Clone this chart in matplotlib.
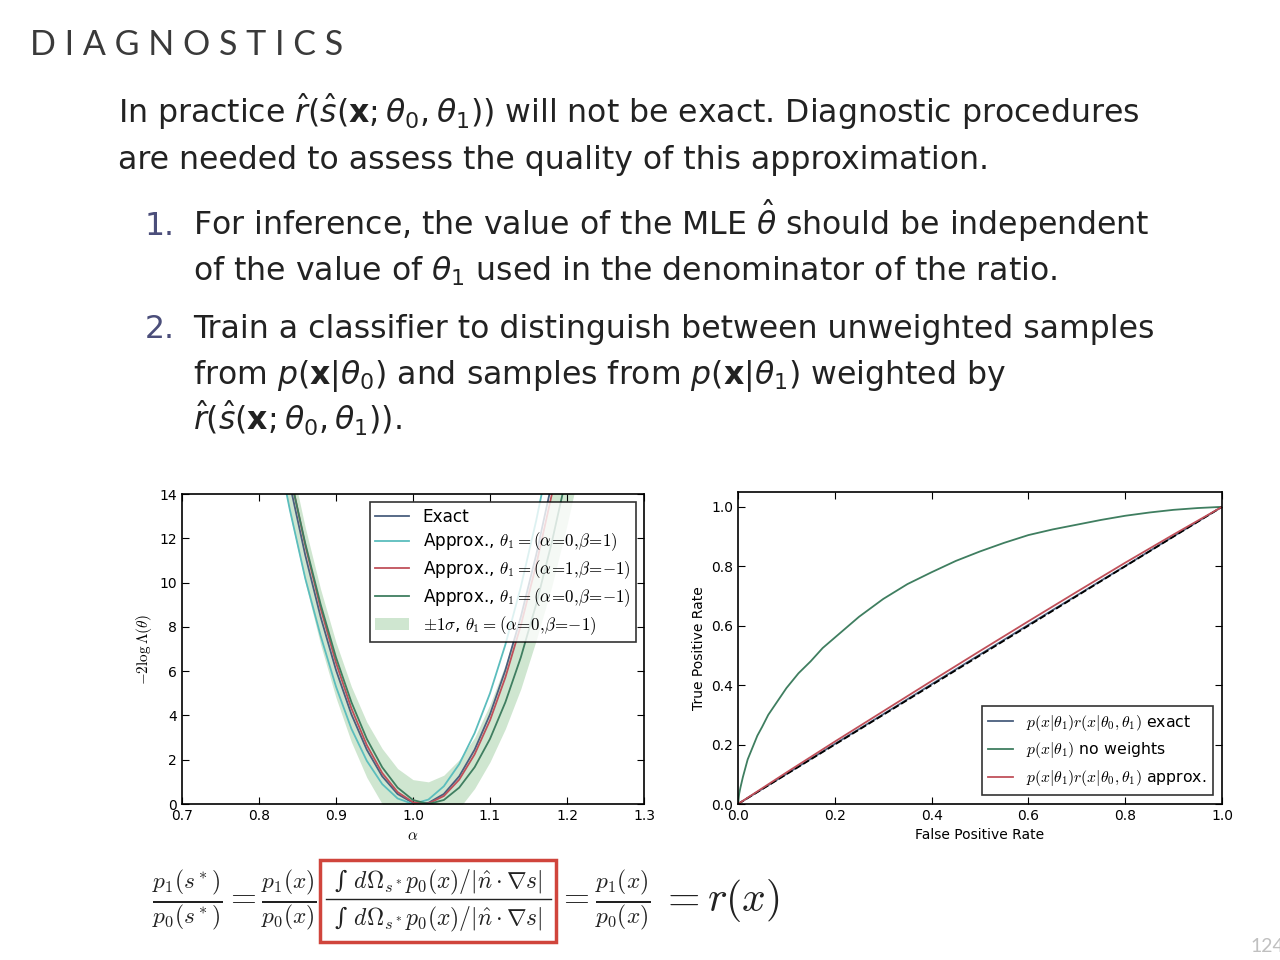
import numpy as np
import matplotlib
matplotlib.use("Agg")
import matplotlib.pyplot as plt
from matplotlib.patches import Rectangle
from matplotlib.lines import Line2D

# --- left panel: -2 log Lambda vs alpha ---
alpha = [0.80, 0.82, 0.84, 0.86, 0.88, 0.90, 0.92, 0.94, 0.96, 0.98, 1.00,
         1.02, 1.04, 1.06, 1.08, 1.10, 1.12, 1.14, 1.16, 1.18, 1.20, 1.22]
nll_exact = [22.05, 18.05, 14.45, 11.25, 8.45, 6.05, 4.05, 2.45, 1.25, 0.45, 0.05,
             0.05, 0.45, 1.25, 2.45, 4.05, 6.05, 8.45, 11.25, 14.45, 18.05, 22.05]
nll_cyan = [20.6, 16.7, 13.3, 10.2, 7.6, 5.3, 3.4, 1.95, 0.9, 0.25, 0.0,
            0.2, 0.8, 1.8, 3.2, 5.0, 7.2, 9.8, 12.8, 16.2, 20.0, 24.2]
nll_red = [22.68, 18.62, 14.96, 11.70, 8.84, 6.38, 4.32, 2.66, 1.40, 0.54, 0.08,
           0.02, 0.36, 1.10, 2.24, 3.78, 5.72, 8.06, 10.80, 13.94, 17.48, 21.42]
nll_green = [22.26, 18.4, 14.9, 11.78, 9.02, 6.62, 4.6, 2.94, 1.66, 0.74, 0.18,
             0.0, 0.18, 0.74, 1.66, 2.94, 4.6, 6.62, 9.02, 11.78, 14.9, 18.4]
band_lo = [20.6, 16.7, 13.1, 10.0, 7.2, 4.8, 2.8, 1.2, 0.0, -0.8, -1.25,
           -1.3, -0.8, -0.2, 0.7, 1.9, 3.4, 5.2, 7.4, 9.8, 12.6, 15.7]
band_hi = [23.2, 19.3, 15.7, 12.5, 9.7, 7.3, 5.3, 3.7, 2.5, 1.6, 1.1,
           1.0, 1.3, 2.0, 3.0, 4.5, 6.3, 8.5, 11.1, 14.1, 17.4, 21.2]

# --- right panel: ROC curves ---
fpr = [0.0, 0.1, 0.2, 0.3, 0.4, 0.5, 0.6, 0.7, 0.8, 0.9, 1.0]
tpr_exact = [0.0, 0.101, 0.202, 0.302, 0.403, 0.503, 0.603, 0.702, 0.801, 0.901, 1.0]
tpr_approx = [0.0, 0.106, 0.21, 0.312, 0.414, 0.515, 0.615, 0.714, 0.812, 0.907, 1.0]
fpr_nw = [0.0, 0.0025, 0.005, 0.01, 0.02, 0.03, 0.04, 0.05, 0.0625, 0.075, 0.0875,
          0.1, 0.125, 0.15, 0.175, 0.2, 0.25, 0.3, 0.35, 0.4, 0.45, 0.5,
          0.55, 0.6, 0.65, 0.7, 0.75, 0.8, 0.85, 0.9, 0.95, 1.0]
tpr_nw = [0.0, 0.035, 0.055, 0.09, 0.15, 0.19, 0.23, 0.26, 0.30, 0.33, 0.36,
          0.39, 0.44, 0.48, 0.525, 0.56, 0.63, 0.69, 0.74, 0.78, 0.818, 0.85,
          0.879, 0.905, 0.924, 0.94, 0.956, 0.97, 0.981, 0.99, 0.996, 1.0]

C_EXACT = "#4a5f7e"
C_CYAN = "#5bbdbd"
C_RED = "#c0505a"
C_GREEN = "#3f7e60"
C_BAND = "#cfe6d0"

plt.rcParams["font.family"] = ["DejaVu Sans"]
plt.rcParams["mathtext.fontset"] = "cm"
for ax_ in ("xtick", "ytick"):
    plt.rcParams[ax_ + ".direction"] = "in"
    plt.rcParams[ax_ + ".major.size"] = 5
    plt.rcParams[ax_ + ".labelsize"] = 10
plt.rcParams["xtick.top"] = True
plt.rcParams["ytick.right"] = True

fig = plt.figure(figsize=(12.8, 9.6), dpi=100)
fig.patch.set_facecolor("white")

H = 960.0
W = 1280.0

# slide text
fig.text(30 / W, 1 - 55 / H, "D I A G N O S T I C S", fontsize=24.5,
         family="Lato", weight="normal", color="#3a3a3a", va="baseline")

body = dict(fontsize=22.7, family="DejaVu Sans", color="#222222", va="baseline",
            math_fontfamily="dejavusans")
fig.text(118 / W, 1 - 123 / H,
         r"In practice $\hat{r}(\hat{s}(\mathbf{x};\theta_0,\theta_1))$ will not be exact. Diagnostic procedures",
         **body)
fig.text(118 / W, 1 - 169 / H,
         "are needed to assess the quality of this approximation.", **body)
num = dict(body, color="#4b4e7a")
fig.text(145 / W, 1 - 235 / H, "1.", **num)
fig.text(145 / W, 1 - 338 / H, "2.", **num)
fig.text(193 / W, 1 - 235 / H,
         r"For inference, the value of the MLE $\hat{\theta}$ should be independent", **body)
fig.text(193 / W, 1 - 281 / H,
         r"of the value of $\theta_1$ used in the denominator of the ratio.", **body)
fig.text(193 / W, 1 - 338 / H,
         "Train a classifier to distinguish between unweighted samples", **body)
fig.text(193 / W, 1 - 384 / H,
         r"from $p(\mathbf{x}|\theta_0)$ and samples from $p(\mathbf{x}|\theta_1)$ weighted by",
         **body)
fig.text(193 / W, 1 - 431 / H,
         r"$\hat{r}(\hat{s}(\mathbf{x};\theta_0,\theta_1))$.", **body)

# left plot
ax1 = fig.add_axes([182 / W, 1 - 804 / H, 462 / W, 310 / H])
ax1.fill_between(alpha, band_lo, band_hi, color=C_BAND, lw=0,
                 label=r"$\pm1\sigma$, $\theta_1=(\alpha\!=\!0,\!\beta\!=\!{-1})$")
ax1.plot(alpha, nll_exact, color=C_EXACT, lw=1.3, label="Exact")
ax1.plot(alpha, nll_cyan, color=C_CYAN, lw=1.3,
         label=r"Approx., $\theta_1=(\alpha\!=\!0,\!\beta\!=\!1)$")
ax1.plot(alpha, nll_red, color=C_RED, lw=1.3,
         label=r"Approx., $\theta_1=(\alpha\!=\!1,\!\beta\!=\!{-1})$")
ax1.plot(alpha, nll_green, color=C_GREEN, lw=1.3,
         label=r"Approx., $\theta_1=(\alpha\!=\!0,\!\beta\!=\!{-1})$")
ax1.set_xlim(0.7, 1.3)
ax1.set_ylim(0, 14)
ax1.set_xticks(np.arange(0.7, 1.31, 0.1))
ax1.set_yticks(range(0, 15, 2))
ax1.set_xlabel(r"$\alpha$", fontsize=11)
ax1.set_ylabel(r"$-2\log\Lambda(\theta)$", fontsize=11)
h, l = ax1.get_legend_handles_labels()
order = [1, 2, 3, 4, 0]
leg1 = ax1.legend([h[i] for i in order], [l[i] for i in order], loc="upper right",
                  fontsize=12.2, fancybox=False, edgecolor="black",
                  borderaxespad=0.5, handlelength=2.0, labelspacing=0.3,
                  borderpad=0.3)
leg1.get_frame().set_linewidth(1.2)

# right plot
ax2 = fig.add_axes([738 / W, 1 - 804 / H, 484 / W, 312 / H])
ax2.plot(fpr, tpr_exact, color=C_EXACT, lw=1.3,
         label=r"$p(x|\theta_1)r(x|\theta_0,\theta_1)$ exact")
ax2.plot(fpr_nw, tpr_nw, color=C_GREEN, lw=1.3,
         label=r"$p(x|\theta_1)$ no weights")
ax2.plot([0, 1], [0, 1], color="black", lw=1.3, ls="--")
ax2.plot(fpr, tpr_approx, color=C_RED, lw=1.3,
         label=r"$p(x|\theta_1)r(x|\theta_0,\theta_1)$ approx.")
ax2.set_xlim(0, 1)
ax2.set_ylim(0, 1.05)
ax2.set_xticks(np.arange(0, 1.01, 0.2))
ax2.set_yticks(np.arange(0, 1.01, 0.2))
ax2.set_xlabel("False Positive Rate", fontsize=10)
ax2.set_ylabel("True Positive Rate", fontsize=10)
leg2 = ax2.legend(loc="lower right", fontsize=11.3, fancybox=False,
                  edgecolor="black", borderaxespad=0.6, handlelength=1.6)
leg2.get_frame().set_linewidth(1.2)

for ax in (ax1, ax2):
    for s in ax.spines.values():
        s.set_linewidth(1.2)

# bottom equation
eq = dict(fontsize=24, va="center", math_fontfamily="cm", color="#222222")
fig.text(152 / W, 1 - 901 / H,
         r"$\frac{p_1(s^*)}{p_0(s^*)}=\frac{p_1(x)}{p_0(x)}$", **eq)
box_part = dict(fontsize=17, ha="center", va="baseline", math_fontfamily="cm",
                color="#222222", family="DejaVu Serif")
frac_txt = "\u222b $d\\Omega_{s^*}p_0(x)/|\\hat{n}\\cdot\\nabla s|$"
fig.text(438 / W, 1 - 888 / H, frac_txt, **box_part)
fig.text(438 / W, 1 - 925 / H, frac_txt, **box_part)
fig.lines.append(Line2D([326 / W, 551 / W], [1 - 899 / H, 1 - 899 / H],
                        transform=fig.transFigure, color="#222222", lw=1.0))
fig.text(558 / W, 1 - 901 / H,
         r"$=\frac{p_1(x)}{p_0(x)}$", **eq)
fig.text(660 / W, 1 - 901 / H, r"$=r(x)$", fontsize=30, va="center",
         math_fontfamily="cm", color="#222222")
fig.patches.append(Rectangle((320 / W, 1 - 942 / H), 236 / W, 82 / H,
                             transform=fig.transFigure, fill=False,
                             edgecolor="#d0453c", lw=2.5))

fig.text(1250 / W, 1 - 952 / H, "124", fontsize=14, color="#c0c0c0",
         family="Lato", va="baseline")

fig.savefig("out.png", dpi=100, facecolor="white")
